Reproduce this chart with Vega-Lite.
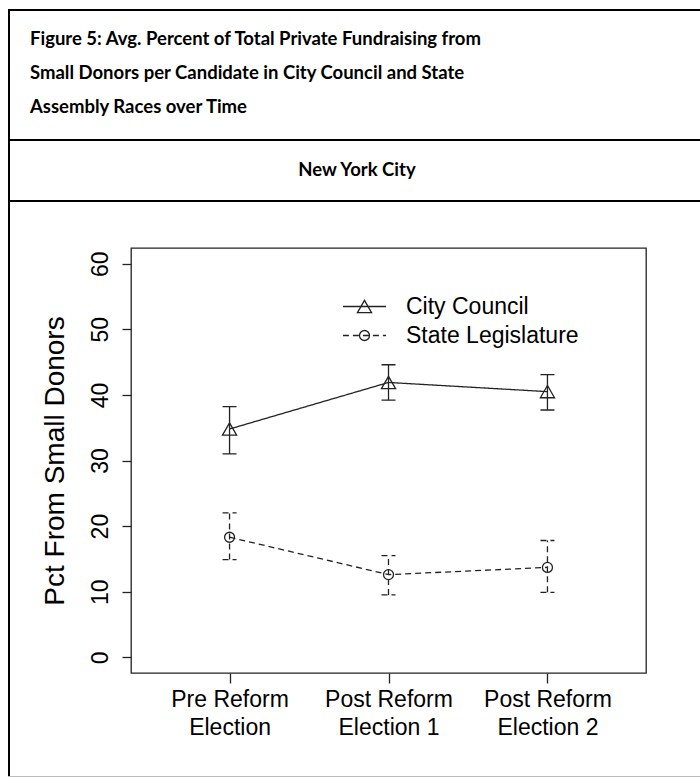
{
  "$schema": "https://vega.github.io/schema/vega-lite/v6.json",
  "padding": {"left": 8, "top": 9, "right": 0, "bottom": 0},
  "background": "white",
  "config": {"view": {"stroke": null}, "font": "Liberation Sans"},
  "spacing": 0,
  "vconcat": [
    {"width": 692, "height": 2, "data": {"values": []}, "mark": "point", "view": {"fill": "black", "stroke": null}},
    {
      "spacing": 0,
      "hconcat": [
        {"width": 2, "height": 128, "data": {"values": []}, "mark": "point", "view": {"fill": "black", "stroke": null}},
        {
          "width": 690,
          "height": 128,
          "data": {"values": [
            {"line": 1, "text": "Figure 5: Avg. Percent of Total Private Fundraising from"},
            {"line": 2, "text": "Small Donors per Candidate in City Council and State"},
            {"line": 3, "text": "Assembly Races over Time"}
          ]},
          "mark": {"type": "text", "align": "left", "baseline": "alphabetic", "font": "Lato", "fontWeight": "bold", "fontSize": 18.5, "color": "black", "dx": 20, "dy": 4},
          "encoding": {
            "text": {"field": "text"},
            "y": {"field": "line", "type": "ordinal", "axis": null, "scale": {"type": "point", "padding": 0.882}},
            "x": {"datum": 0, "type": "quantitative", "axis": null, "scale": {"domain": [0, 1]}}
          }
        }
      ]
    },
    {"width": 692, "height": 2, "data": {"values": []}, "mark": "point", "view": {"fill": "black", "stroke": null}},
    {
      "spacing": 0,
      "hconcat": [
        {"width": 2, "height": 59, "data": {"values": []}, "mark": "point", "view": {"fill": "black", "stroke": null}},
        {
          "width": 690,
          "height": 59,
          "data": {"values": [{"text": "New York City"}]},
          "mark": {"type": "text", "align": "center", "baseline": "alphabetic", "font": "Lato", "fontWeight": "bold", "fontSize": 18.5, "color": "black", "dx": 2, "dy": 5},
          "encoding": {"text": {"field": "text"}}
        }
      ]
    },
    {"width": 692, "height": 2, "data": {"values": []}, "mark": "point", "view": {"fill": "black", "stroke": null}},
    {
      "spacing": 30,
      "hconcat": [
        {"width": 2, "height": 574, "data": {"values": []}, "mark": "point", "view": {"fill": "black", "stroke": null}},
        {
          "spacing": 0,
          "vconcat": [
            {"width": 515, "height": 45, "data": {"values": []}, "mark": "point"},
            {
              "width": 515,
              "height": 425,
              "view": {"stroke": "#222", "strokeWidth": 1.3},
              "data": {"values": [
                {"period": "Pre Reform Election", "series": "City Council", "mean": 34.8, "lo": 31.0, "hi": 38.2},
                {"period": "Post Reform Election 1", "series": "City Council", "mean": 41.9, "lo": 39.2, "hi": 44.6},
                {"period": "Post Reform Election 2", "series": "City Council", "mean": 40.5, "lo": 37.7, "hi": 43.1},
                {"period": "Pre Reform Election", "series": "State Legislature", "mean": 18.3, "lo": 14.9, "hi": 22.0},
                {"period": "Post Reform Election 1", "series": "State Legislature", "mean": 12.6, "lo": 9.5, "hi": 15.5},
                {"period": "Post Reform Election 2", "series": "State Legislature", "mean": 13.7, "lo": 9.9, "hi": 17.8}
              ]},
              "encoding": {
                "x": {
                  "field": "period",
                  "type": "ordinal",
                  "sort": ["Pre Reform Election", "Post Reform Election 1", "Post Reform Election 2"],
                  "scale": {"type": "point", "padding": 0.62},
                  "axis": {
                    "title": null,
                    "labelExpr": "[slice(datum.label, 0, indexof(datum.label, ' Election')), slice(datum.label, indexof(datum.label, ' Election') + 1)]",
                    "labelAngle": 0,
                    "labelFont": "Liberation Sans",
                    "labelFontSize": 23,
                    "labelColor": "black",
                    "labelLineHeight": 28,
                    "labelPadding": 5,
                    "tickSize": 10,
                    "tickWidth": 1.3,
                    "tickColor": "#222",
                    "domain": false,
                    "grid": false
                  }
                }
              },
              "layer": [
                {
                  "mark": {"type": "rule", "color": "#222", "strokeWidth": 1.3},
                  "encoding": {
                    "y": {
                      "field": "lo",
                      "type": "quantitative",
                      "scale": {"domain": [-2.4, 62.4], "nice": false, "zero": false},
                      "axis": {
                        "title": "Pct From Small Donors",
                        "values": [0, 10, 20, 30, 40, 50, 60],
                        "grid": false,
                        "domain": false,
                        "tickSize": 9,
                        "tickWidth": 1.3,
                        "tickColor": "#222",
                        "labelAngle": 270,
                        "labelAlign": "center",
                        "labelBaseline": "bottom",
                        "labelPadding": 10,
                        "labelFont": "Liberation Sans",
                        "labelFontSize": 23,
                        "labelColor": "black",
                        "titleFont": "Liberation Sans",
                        "titleFontSize": 28,
                        "titleFontWeight": "normal",
                        "titleColor": "black",
                        "titlePadding": 20
                      }
                    },
                    "y2": {"field": "hi"},
                    "strokeDash": {"field": "series", "type": "nominal", "scale": {"range": [[1, 0], [6, 4]]}}
                  }
                },
                {
                  "mark": {"type": "point", "shape": "stroke", "filled": false, "color": "#222", "strokeWidth": 1.3, "size": 196, "opacity": 1},
                  "encoding": {
                    "y": {"field": "lo", "type": "quantitative"},
                    "strokeDash": {"field": "series", "type": "nominal"}
                  }
                },
                {
                  "mark": {"type": "point", "shape": "stroke", "filled": false, "color": "#222", "strokeWidth": 1.3, "size": 196, "opacity": 1},
                  "encoding": {
                    "y": {"field": "hi", "type": "quantitative"},
                    "strokeDash": {"field": "series", "type": "nominal"}
                  }
                },
                {
                  "mark": {"type": "line", "color": "#222", "strokeWidth": 1.3},
                  "encoding": {
                    "y": {"field": "mean", "type": "quantitative"},
                    "strokeDash": {
                      "field": "series",
                      "type": "nominal",
                      "legend": {
                        "orient": "none",
                        "legendX": 345,
                        "legendY": 286,
                        "title": null,
                        "padding": 0,
                        "symbolType": "M-3.05,0H3.05",
                        "symbolSize": 200,
                        "symbolStrokeWidth": 1.3,
                        "symbolStrokeColor": "#222",
                        "labelFont": "Liberation Sans",
                        "labelFontSize": 23,
                        "labelColor": "black",
                        "labelOffset": 30,
                        "labelLimit": 0,
                        "rowPadding": 5
                      }
                    }
                  }
                },
                {
                  "mark": {"type": "point", "filled": false, "color": "#222", "strokeWidth": 1.3, "opacity": 1},
                  "encoding": {
                    "y": {"field": "mean", "type": "quantitative"},
                    "shape": {
                      "field": "series",
                      "type": "nominal",
                      "scale": {"domain": ["City Council", "State Legislature"], "range": ["triangle-up", "circle"]},
                      "legend": {
                        "orient": "none",
                        "legendX": 345,
                        "legendY": 286,
                        "title": null,
                        "padding": 0,
                        "symbolStrokeWidth": 1.3,
                        "symbolStrokeColor": "#222",
                        "labelExpr": "''",
                        "labelFont": "Liberation Sans",
                        "labelFontSize": 23,
                        "labelOffset": 30,
                        "rowPadding": 5
                      }
                    },
                    "size": {
                      "field": "series",
                      "type": "nominal",
                      "scale": {"domain": ["City Council", "State Legislature"], "range": [200, 100]}
                    }
                  }
                }
              ]
            }
          ]
        }
      ]
    },
    {"width": 692, "height": 1, "data": {"values": []}, "mark": "point", "view": {"fill": "#bbbbbb", "stroke": null}}
  ]
}
